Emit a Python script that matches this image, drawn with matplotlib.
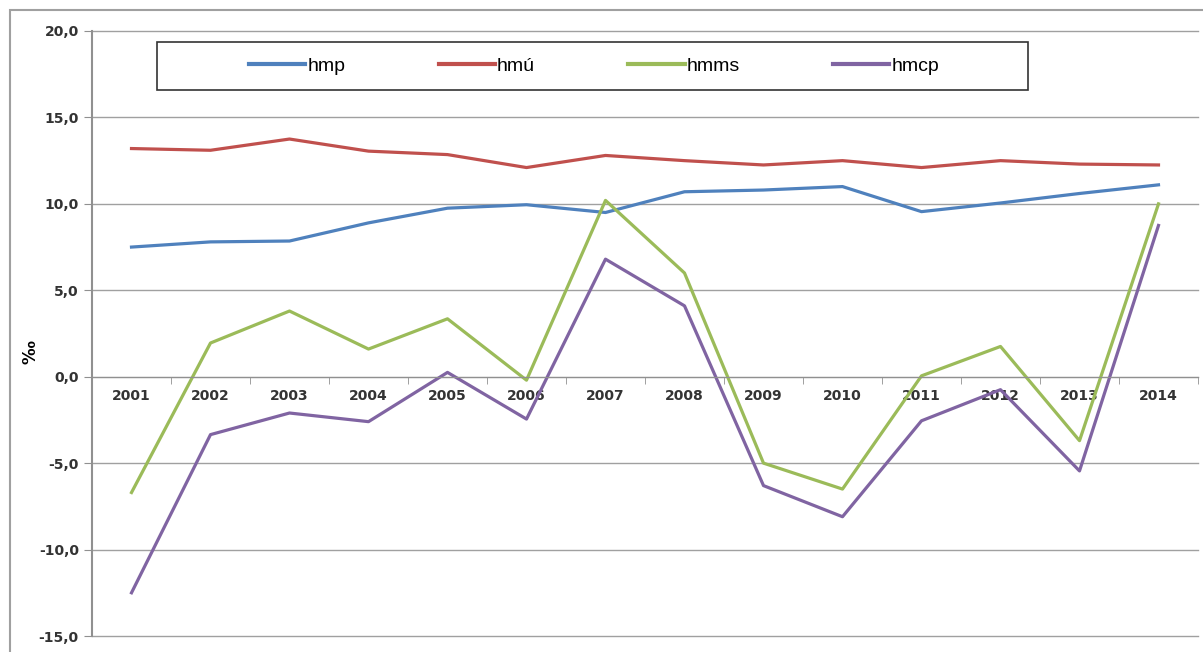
import matplotlib.pyplot as plt
from matplotlib.patches import Rectangle
import numpy as np

anos = ['2001', '2002', '2003', '2004', '2005', '2006', '2007',
        '2008', '2009', '2010', '2011', '2012', '2013', '2014']
hmp = [7.5, 7.8, 7.85, 8.9, 9.75, 9.95, 9.5, 10.7, 10.8, 11.0, 9.55, 10.05, 10.6, 11.1]
hmu = [13.2, 13.1, 13.75, 13.05, 12.85, 12.1, 12.8, 12.5, 12.25, 12.5, 12.1, 12.5, 12.3, 12.25]
hmms = [-6.7, 1.95, 3.8, 1.6, 3.35, -0.2, 10.2, 6.0, -5.0, -6.5, 0.05, 1.75, -3.7, 10.0]
hmcp = [-12.5, -3.35, -2.1, -2.6, 0.25, -2.45, 6.8, 4.1, -6.3, -8.1, -2.55, -0.75, -5.45, 8.75]

W, H = 1203, 652
fig = plt.figure(figsize=(W / 100, H / 100), dpi=100)
ax = fig.add_axes([92 / W, 1 - 636 / H, (1198 - 92) / W, (636 - 31) / H])

x = np.arange(len(anos))
ax.plot(x, hmp, color='#4F81BD', lw=2.3, label='hmp')
ax.plot(x, hmu, color='#C0504D', lw=2.3, label='hmú')
ax.plot(x, hmms, color='#9BBB59', lw=2.3, label='hmms')
ax.plot(x, hmcp, color='#8064A2', lw=2.3, label='hmcp')

ax.set_xlim(-0.5, len(anos) - 0.5)
ax.set_ylim(-15, 20)
ax.set_yticks(np.arange(-15, 21, 5))
ax.set_yticklabels([f'{v:.1f}'.replace('.', ',') for v in np.arange(-15, 21, 5)],
                   fontweight='bold', fontsize=10, color='#333333')
ax.yaxis.grid(True, color='#A0A0A0', lw=1)
for g in ax.get_ygridlines():
    g.set_clip_on(False)
ax.set_axisbelow(True)

ax.spines['top'].set_visible(False)
ax.spines['right'].set_visible(False)
ax.spines['left'].set_color('#909090')
ax.spines['left'].set_linewidth(1.5)
ax.spines['bottom'].set_position(('data', 0))
ax.spines['bottom'].set_color('#909090')
ax.tick_params(axis='y', length=6, color='#909090')

ax.set_xticks(x)
ax.set_xticklabels(anos, fontweight='bold', fontsize=10, color='#333333')
ax.set_xticks(np.arange(-0.5, len(anos), 1), minor=True)
ax.tick_params(axis='x', which='major', length=0, pad=9)
ax.tick_params(axis='x', which='minor', length=5, color='#909090')

fig.text(30 / W, 1 - 352 / H, '‰', rotation=90, fontsize=12, fontweight='bold',
         ha='center', va='center')

# caixa da legenda
fig.add_artist(Rectangle((157 / W, 1 - 90 / H), (1028 - 157) / W, 48 / H,
                         transform=fig.transFigure, fill=True, facecolor='white',
                         edgecolor='#333333', lw=1.2, zorder=5))
leg = fig.legend(loc='center', bbox_to_anchor=(594 / W, 1 - 66 / H),
                 ncol=4, frameon=False, handlelength=2.9,
                 handletextpad=0.1, columnspacing=4.8,
                 prop={'family': ['Liberation Sans Narrow', 'DejaVu Sans Condensed',
                                  'Liberation Sans'], 'size': 14})
for l in leg.get_lines():
    l.set_linewidth(3)
leg.set_zorder(6)

# moldura externa
fig.add_artist(Rectangle((10 / W, -0.01), (1300 - 10) / W, 1 - 10 / H + 0.01,
                         transform=fig.transFigure, fill=False,
                         edgecolor='#A0A0A0', lw=1.5))

plt.savefig('out.png', dpi=100)
